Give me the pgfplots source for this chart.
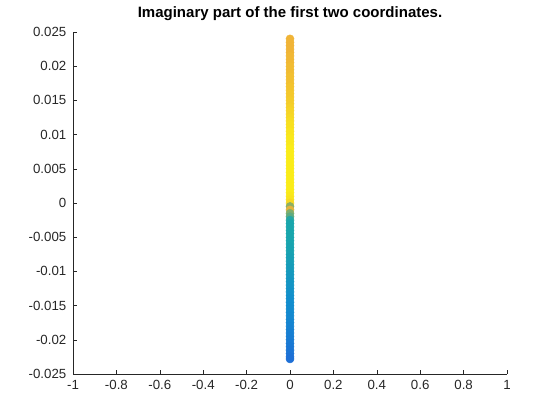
\documentclass[border=0pt]{standalone}
\usepackage{fontspec}
\setmainfont{Liberation Sans}
\usepackage{pgfplots}
\usepackage{pgfplotstable}
\pgfplotsset{compat=1.18}
\definecolor{axgray}{rgb}{0.15,0.15,0.15}

% imaginary parts (x=0), colour value per point
\pgfplotstableread{
y c
0.0240 0.86
0.0235 0.86
0.0230 0.86
0.0225 0.86
0.0220 0.86
0.0215 0.87
0.0210 0.87
0.0205 0.87
0.0200 0.88
0.0195 0.88
0.0190 0.88
0.0185 0.89
0.0180 0.89
0.0175 0.89
0.0170 0.90
0.0165 0.90
0.0160 0.91
0.0155 0.91
0.0150 0.92
0.0145 0.92
0.0140 0.93
0.0135 0.94
0.0130 0.94
0.0125 0.95
0.0120 0.96
0.0115 0.97
0.0110 0.97
0.0105 0.98
0.0100 0.98
0.0095 0.99
0.0090 0.99
0.0085 0.99
0.0080 1.00
0.0075 1.00
0.0070 1.00
0.0065 1.00
0.0060 1.00
0.0055 1.00
0.0050 1.00
0.0045 1.00
0.0040 1.00
0.0035 1.00
0.0030 1.00
0.0025 1.00
0.0020 1.00
0.0015 1.00
0.0010 0.99
0.0005 0.98
0.0000 0.95
-0.0005 0.70
-0.0010 0.84
-0.0015 0.68
-0.0020 0.62
-0.0025 0.52
-0.0030 0.50
-0.0035 0.50
-0.0040 0.50
-0.0045 0.50
-0.0050 0.50
-0.0055 0.49
-0.0060 0.49
-0.0065 0.48
-0.0070 0.48
-0.0075 0.47
-0.0080 0.46
-0.0085 0.45
-0.0090 0.44
-0.0095 0.43
-0.0100 0.42
-0.0105 0.41
-0.0110 0.40
-0.0115 0.39
-0.0120 0.38
-0.0125 0.37
-0.0130 0.36
-0.0135 0.35
-0.0140 0.34
-0.0145 0.33
-0.0150 0.32
-0.0155 0.31
-0.0160 0.30
-0.0165 0.28
-0.0170 0.26
-0.0175 0.24
-0.0180 0.22
-0.0185 0.20
-0.0190 0.18
-0.0195 0.16
-0.0200 0.14
-0.0205 0.12
-0.0210 0.10
-0.0215 0.07
-0.0220 0.05
-0.0225 0.02
-0.0228 0.00
}\imagdata

\pgfplotsset{colormap={obs}{rgb255(0)=(30,112,214) rgb255(0.33)=(18,142,206) rgb255(0.5)=(25,166,172) rgb255(0.7)=(140,175,100) rgb255(0.86)=(240,180,55) rgb255(1)=(250,236,25)}}

\begin{document}
\begin{tikzpicture}
\path[use as bounding box] (-54.75bp,-34.5bp) rectangle (365.25bp,280.5bp);
\begin{axis}[
  at={(0,0)}, anchor=south west,
  scale only axis, width=325.5bp, height=256.5bp,
  xmin=-1, xmax=1, ymin=-0.025, ymax=0.025,
  axis x line=bottom, axis y line=left,
  axis line style={-, draw=axgray, line width=0.4pt},
  tick align=inside, major tick length=3.3bp,
  tick style={axgray, line width=0.4pt},
  xtick={-1,-0.8,...,1},
  xticklabels={-1,-0.8,-0.6,-0.4,-0.2,0,0.2,0.4,0.6,0.8,1},
  ytick={-0.025,-0.02,-0.015,-0.01,-0.005,0,0.005,0.01,0.015,0.02,0.025},
  yticklabels={-0.025,-0.02,-0.015,-0.01,-0.005,0,0.005,0.01,0.015,0.02,0.025},
  scaled y ticks=false,
  ticklabel style={font=\fontsize{10}{12}\selectfont, text=axgray},
  /pgf/number format/assume math mode=true,
  xticklabel style={yshift=-1bp},
  yticklabel style={xshift=-1.5bp},
  title={Imaginary part of the first two coordinates.},
  title style={font=\bfseries\fontsize{11.3}{13}\selectfont, yshift=-1bp},
  colormap name=obs,
  point meta min=0, point meta max=1,
  clip=false,
]
\addplot[scatter, only marks, mark=*, mark size=3bp,
  scatter/use mapped color={draw=mapped color, fill=mapped color},
  point meta=\thisrow{c}]
  table[x expr=0, y=y] {\imagdata};
\end{axis}
\end{tikzpicture}
\end{document}
